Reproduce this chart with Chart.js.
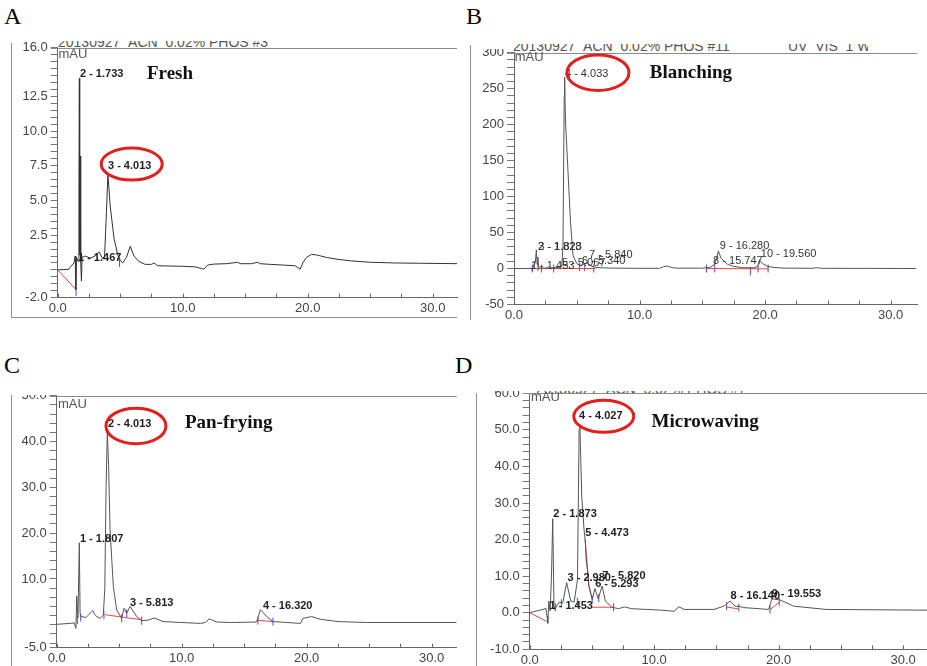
<!DOCTYPE html>
<html>
<head>
<meta charset="utf-8">
<script src="https://cdn.jsdelivr.net/npm/chart.js@4.4.1/dist/chart.umd.min.js"></script>
<style>
  body { margin: 0; background: #fff; width: 927px; height: 666px; position: relative; overflow: hidden; font-family: 'Liberation Sans', Arial, sans-serif; }
  .clip { position: absolute; overflow: hidden; }
  .clip canvas { position: absolute; left: 0; }
  .letter { position: absolute; font: 24px 'Liberation Serif', serif; line-height: 24px; color: #000; }
  .frame { position: absolute; background: #8f8f8f; }
  .hdr { position: absolute; overflow: hidden; white-space: nowrap; color: #555; font-size: 14px; line-height: 14px; }
  .hdr span { position: absolute; left: 0; }
</style>
</head>
<body>

<div class="letter" style="left:4px;top:4px">A</div>
<div class="letter" style="left:466px;top:4px">B</div>
<div class="letter" style="left:4px;top:353px">C</div>
<div class="letter" style="left:455px;top:353px">D</div>

<div class="frame" style="left:11px;top:43px;width:1px;height:275px"></div>
<div class="frame" style="left:11px;top:317px;width:446px;height:1px"></div>
<div class="frame" style="left:470px;top:45px;width:1px;height:275px"></div>
<div class="frame" style="left:11px;top:395px;width:1px;height:271px"></div>
<div class="frame" style="left:476px;top:393px;width:1px;height:273px"></div>

<div class="hdr" style="left:58px;top:41px;width:215px;height:6px"><span style="top:-6px">20130927_ACN_0.02% PHOS #3</span></div>
<div class="hdr" style="left:513px;top:44px;width:225px;height:7px"><span style="top:-5px">20130927_ACN_0.02% PHOS #11</span></div>
<div class="hdr" style="left:788px;top:44px;width:80px;height:7px"><span style="top:-5px">UV_VIS_1 WVL:280</span></div>
<div class="hdr" style="left:536px;top:391px;width:210px;height:3px"><span style="top:-9px">20130927_ACN_0.02% PHOS #7</span></div>

<div class="clip" style="left:0;top:0;width:463px;height:333px"><canvas id="cA" width="463" height="333" style="top:0"></canvas></div>
<div class="clip" style="left:463px;top:48.5px;width:464px;height:284.5px"><canvas id="cB" width="464" height="333" style="top:-48.5px"></canvas></div>
<div class="clip" style="left:0;top:394.5px;width:463px;height:271.5px"><canvas id="cC" width="463" height="333" style="top:-61.5px"></canvas></div>
<div class="clip" style="left:463px;top:391px;width:464px;height:275px"><canvas id="cD" width="470" height="333" style="top:-58px"></canvas></div>

<script>
// retention time (min) and signal (mAU)
const timeA = [0, 0.9, 1.0, 1.3, 1.4, 1.45, 1.5, 1.65, 1.7, 1.733, 1.76, 1.8, 1.84, 1.9, 1.95, 2.2, 2.6, 3.0, 3.3, 3.6,
  3.75, 3.9, 4.013, 4.2, 4.5, 4.8, 5.0, 5.2, 5.5, 5.8, 6.1, 6.5, 7.0, 7.5, 7.7, 8.0, 9.0, 10.0, 11.0, 11.5,
  11.7, 12.0, 12.5, 13.5, 14.4, 14.6, 15.5, 16.0, 16.2, 17.0, 18.0, 19.0, 19.4, 19.6, 19.9, 20.3, 20.7, 21.5, 22.5, 23.5,
  25.0, 27.0, 29.0, 32.0];
const signalA = [0, 0.05, 0.2, 0.5, 1.0, -1.4, 0.9, 0.6, 6, 13.8, 1.2, 8.2, 0.6, -0.8, 0.9, 1.0, 0.85, 1.0, 1.3, 0.8,
  1.0, 4.2, 6.9, 4.6, 2.3, 1.1, 0.7, 0.5, 0.9, 1.7, 1.0, 0.6, 0.4, 0.4, 0.5, 0.3, 0.28, 0.26, 0.22, 0.1,
  0.05, 0.35, 0.42, 0.45, 0.55, 0.45, 0.45, 0.55, 0.45, 0.4, 0.35, 0.3, 0.05, 0.5, 0.9, 1.12, 1.08, 0.9, 0.75, 0.65,
  0.55, 0.5, 0.48, 0.45];

const timeB = [0, 1.2, 1.4, 1.46, 1.55, 1.7, 1.78, 1.84, 1.9, 1.96, 2.1, 2.5, 2.8, 3.0, 3.3, 3.6, 3.8, 3.9, 4.0, 4.033,
  4.1, 4.3, 4.5, 4.7, 5.0, 5.3, 5.5, 5.84, 6.2, 6.6, 7.2, 8.0, 10.0, 11.6, 11.9, 12.2, 12.6, 13.0, 15.0, 15.6,
  16.0, 16.28, 16.5, 17.0, 17.5, 18.2, 19.2, 19.45, 19.56, 19.8, 20.2, 20.7, 21.5, 23.8, 24.1, 24.5, 28.0, 32.0];
const signalB = [0, 0, 0.5, -3, 4, 8, 26, 6, 16, 2, 0.5, 0.5, 2.5, 1, 1.5, 1.5, 3, 30, 240, 266,
  205, 135, 65, 18, 7, 4, 6, 8, 3, 1.5, 0.8, 0.5, 0.3, 0.3, 2.5, 3.5, 1.2, 0.5, 0.5, 1.5,
  6, 24.5, 14, 6, 3, 1.2, 1.0, 4, 12, 7, 3, 1.5, 0.6, 0.3, 1.2, 0.3, 0.2, 0];

const timeC = [0, 1.0, 1.4, 1.54, 1.6, 1.7, 1.81, 1.87, 1.95, 2.35, 2.88, 3.1, 3.47, 3.73, 3.85, 3.95, 4.05, 4.15, 4.27, 4.53,
  4.8, 5.2, 5.39, 5.6, 5.87, 6.4, 6.8, 7.3, 7.8, 8.5, 11.5, 11.9, 12.2, 12.8, 14.0, 16.0, 16.3, 16.8, 17.3, 19.5,
  19.7, 20.4, 21.1, 22.5, 24.8, 32.0];
const signalC = [0.1, 0.3, 0.4, -0.8, 6.3, 1.5, 17.9, 2.5, 1.8, 1.6, 3.1, 2.0, 1.4, 2.1, 8, 30, 42, 35, 20.7, 8.4,
  3.2, 1.4, 3.6, 2.5, 4.0, 1.8, 0.9, 1.0, 1.5, 0.7, 0.3, 0.5, 1.3, 0.6, 0.5, 0.6, 3.3, 1.8, 0.7, 0.3,
  1.4, 1.8, 1.2, 0.7, 0.5, 0.5];

const timeD = [0, 1.06, 1.3, 1.46, 1.54, 1.64, 1.75, 1.85, 1.95, 2.0, 2.38, 2.65, 2.97, 3.3, 3.57, 3.84, 3.97, 4.03, 4.18, 4.37,
  4.45, 4.55, 4.76, 5.03, 5.24, 5.5, 5.82, 6.08, 6.6, 7.14, 7.6, 8.2, 10.6, 11.6, 12.0, 12.4, 14.8, 15.6, 16.1, 16.5,
  16.9, 17.2, 19.2, 19.45, 19.7, 20.1, 20.5, 21.2, 23.8, 32.0];
const signalD = [0, 0.9, 1.2, -2.7, 3.2, 0.5, 10, 25.7, 2, 0.9, 2.9, 2.6, 8.2, 3.2, 2.9, 9.1, 50.1, 51.4, 31.9, 22.6,
  20.2, 14.6, 7.3, 3.6, 6.6, 3.8, 7.3, 3.2, 1.5, 1.1, 1.6, 1.1, 0.7, 0.4, 1.6, 0.9, 0.9, 1.8, 3.2, 1.8,
  1.7, 1.4, 0.9, 3.8, 3.7, 3.5, 2.9, 1.8, 0.9, 0.7];

// integration baselines (null = break) and peak boundary marks
const baseTimeA = [0, 1.5];
const baseSigA = [0, -1.45];
const markTimeA = [1.47, 4.95];
const markSigA = [-1.6, 0.5];

const baseTimeB = [1.3, 6.5, null, 15.3, 20.3];
const baseSigB = [0, 0, null, 0, -0.5];
const markTimeB = [1.46, 1.91, 2.18, 3.16, 5.23, 5.63, 6.35, 15.33, 15.99, 18.83, 19.44, 20.24];
const markSigB = [0, 2, 0, 0, 2, 2, 0, 0, 0, -4, 0, 0];

const baseTimeC = [3.87, 6.8, null, 16.0, 17.3];
const baseSigC = [2.2, 1.1, null, 1.0, 0.7];
const markTimeC = [1.65, 1.92, 3.78, 5.2, 5.6, 6.8, 16.1, 17.3];
const markSigC = [1.0, 1.6, 2.1, 1.4, 2.5, 0.9, 0.9, 0.7];

const baseTimeD = [0, 1.45, null, 4.45, 4.76, 5.03, null, 5.03, 6.74, null, 15.8, 16.8, null, 19.3, 20.05];
const baseSigD = [0, -2.5, null, 20.2, 7.3, 3.6, null, 1.5, 1.5, null, 1.6, 1.0, null, 0.8, 2.9];
const markTimeD = [1.46, 2.06, 2.54, 3.83, 4.55, 5.02, 5.55, 6.74, 15.82, 16.8, 19.31, 20.05];
const markSigD = [-2, 1.5, 2.6, 3, 15, 3.6, 4, 1.5, 1.8, 1.4, 0.9, 3.0];

// axis tick labels
const xLabels = [0, 10, 20, 30];
const yLabelsA = [16.0, 12.5, 10.0, 7.5, 5.0, 2.5, -2.0];
const yLabelsB = [300, 250, 200, 150, 100, 50, 0, -50];
const yLabelsC = [50.0, 40.0, 30.0, 20.0, 10.0, -5.0];
const yLabelsD = [60.0, 50.0, 40.0, 30.0, 20.0, 10.0, 0.0, -10.0];

// peak annotations: text, retention time, height
const peaksA = [['2 - 1.733', 1.78, 14.1], ['3 - 4.013', 4.02, 7.5], ['1 - 1.467', 1.62, 0.88]];
const peaksB = [['4 - 4.033', 4.06, 271], ['2 - 1.828', 1.91, 30.6], ['3 - 1.823', 1.94, 30.6],
  ['1 - 1.453', 1.35, 3.75], ['5 - 5.067', 3.82, 7.2], ['6 - 5.340', 5.42, 11.1], ['7 - 5.840', 5.98, 19],
  ['8 - 15.747', 15.86, 11.1], ['9 - 16.280', 16.39, 31.9], ['10 - 19.560', 19.66, 20.4]];
const peaksC = [['2 - 4.013', 4.1, 43.8], ['1 - 1.807', 1.86, 18.8], ['3 - 5.813', 5.86, 4.87], ['4 - 16.320', 16.5, 4.0]];
const peaksD = [['4 - 4.027', 3.97, 53.7], ['2 - 1.873', 1.9, 26.9], ['5 - 4.473', 4.47, 21.7], ['7 - 5.820', 5.82, 10.0],
  ['3 - 2.980', 3.04, 9.4], ['6 - 5.293', 5.26, 7.9], ['1 - 1.453', 1.59, 1.8], ['8 - 16.140', 16.13, 4.5],
  ['9 - 19.553', 19.44, 5.0]];

function pts(xs, ys) {
  return xs.map((t, i) => ({ x: t, y: ys[i] }));
}

function tickList(min, max, step, majors) {
  const out = [];
  for (let v = Math.ceil(min / step - 1e-9) * step; v <= max + 1e-9; v += step) out.push(+v.toFixed(3));
  majors.forEach(m => { if (!out.some(o => Math.abs(o - m) < 1e-6)) out.push(m); });
  return out.sort((a, b) => a - b);
}

const notesPlugin = {
  id: 'notes',
  afterDraw(chart, args, o) {
    const { ctx, chartArea: a, scales: { x, y } } = chart;
    ctx.save();
    // top frame of the plot
    ctx.strokeStyle = '#8a8a8a';
    ctx.lineWidth = 1;
    ctx.beginPath();
    ctx.moveTo(a.left - 7, Math.round(a.top) + 0.5);
    ctx.lineTo(a.right, Math.round(a.top) + 0.5);
    ctx.stroke();
    // x ticks pointing up into the plot
    ctx.strokeStyle = '#666';
    ctx.beginPath();
    x.ticks.forEach(t => {
      const px = Math.round(x.getPixelForValue(t.value)) + 0.5;
      ctx.moveTo(px, a.bottom);
      ctx.lineTo(px, a.bottom - 4);
    });
    ctx.stroke();

    ctx.textBaseline = 'middle';
    ctx.textAlign = 'left';
    ctx.fillStyle = '#555';
    ctx.font = '13px "Liberation Sans", Arial, sans-serif';
    ctx.fillText('mAU', x.getPixelForValue(o.unit[0]), y.getPixelForValue(o.unit[1]));

    ctx.fillStyle = o.labelColor;
    ctx.font = o.labelFont;
    o.peaks.forEach(p => ctx.fillText(p[0], x.getPixelForValue(p[1]), y.getPixelForValue(p[2])));

    ctx.fillStyle = '#111';
    ctx.font = 'bold 19px "Liberation Serif", "Times New Roman", serif';
    ctx.fillText(o.title[0], x.getPixelForValue(o.title[1]), y.getPixelForValue(o.title[2]));

    ctx.strokeStyle = '#e0201c';
    ctx.lineWidth = 3;
    ctx.beginPath();
    ctx.ellipse(x.getPixelForValue(o.ring[0]), y.getPixelForValue(o.ring[1]), o.ring[2], o.ring[3], 0, 0, Math.PI * 2);
    ctx.stroke();
    ctx.restore();
  }
};

function makePanel(id, p) {
  const yTicks = tickList(p.ymin, p.ymax, p.ystep, p.yLabels);
  const xTicks = tickList(0, 30, 2.5, xLabels);
  return new Chart(document.getElementById(id), {
    type: 'scatter',
    data: {
      datasets: [
        { data: pts(p.time, p.signal), showLine: true, borderColor: p.lineColor, borderWidth: 1, pointRadius: 0, tension: 0 },
        { data: pts(p.baseTime, p.baseSig), showLine: true, borderColor: '#e8453f', borderWidth: 1, pointRadius: 0, spanGaps: false },
        { data: pts(p.markTime, p.markSig), showLine: false, pointStyle: 'line', rotation: 90, pointRadius: 4,
          borderColor: '#4b4bd2', borderWidth: 1 }
      ]
    },
    options: {
      responsive: false,
      animation: false,
      events: [],
      layout: { padding: { top: p.pad[0], right: p.pad[1], bottom: 0, left: 0 } },
      plugins: {
        legend: { display: false },
        tooltip: { enabled: false },
        notes: p.notes
      },
      scales: {
        x: {
          type: 'linear', min: 0, max: p.xmax,
          afterBuildTicks: ax => { ax.ticks = xTicks.map(v => ({ value: v })); },
          afterFit: ax => { ax.height = p.xh; ax.paddingLeft = 0; ax.paddingRight = 0; },
          ticks: {
            autoSkip: false, maxRotation: 0, padding: 3, color: '#444',
            font: { family: 'Liberation Sans', size: 13 },
            callback: v => xLabels.includes(v) ? v.toFixed(1) : ''
          },
          grid: { drawOnChartArea: false, drawTicks: false },
          border: { color: '#666' }
        },
        y: {
          min: p.ymin, max: p.ymax,
          afterBuildTicks: ax => { ax.ticks = yTicks.map(v => ({ value: v })); },
          afterFit: ax => { ax.width = p.yw; ax.paddingTop = 0; ax.paddingBottom = 0; },
          ticks: {
            autoSkip: false, padding: 3, color: '#444',
            font: { family: 'Liberation Sans', size: 13 },
            callback: v => p.yLabels.some(m => Math.abs(m - v) < 1e-6) ? v.toFixed(p.dec) : ''
          },
          grid: { drawOnChartArea: false, tickLength: 7, color: '#777' },
          border: { color: '#666' }
        }
      }
    },
    plugins: [notesPlugin]
  });
}

const boldLabel = 'bold 11px "Liberation Sans", Arial, sans-serif';

makePanel('cA', {
  time: timeA, signal: signalA, baseTime: baseTimeA, baseSig: baseSigA, markTime: markTimeA, markSig: markSigA,
  ymin: -2, ymax: 16, ystep: 0.5, yLabels: yLabelsA, dec: 1, xmax: 31.94,
  pad: [47.7, 6], yw: 57.7, xh: 35.3, lineColor: '#333',
  notes: { peaks: peaksA, labelFont: boldLabel, labelColor: '#222', title: ['Fresh', 7.14, 14.07],
    ring: [5.92, 7.62, 30.5, 16], unit: [0.06, 15.5] }
});

makePanel('cB', {
  time: timeB, signal: signalB, baseTime: baseTimeB, baseSig: baseSigB, markTime: markTimeB, markSig: markSigB,
  ymin: -50, ymax: 300, ystep: 10, yLabels: yLabelsB, dec: 0, xmax: 32.1,
  pad: [52.7, 10], yw: 51, xh: 28.5, lineColor: '#555',
  notes: { peaks: peaksB, labelFont: '11px "Liberation Sans", Arial, sans-serif', labelColor: '#333',
    title: ['Blanching', 10.81, 271.4], ring: [6.69, 272.2, 31, 17.8], unit: [0.06, 293.6] }
});

makePanel('cC', {
  time: timeC, signal: signalC, baseTime: baseTimeC, baseSig: baseSigC, markTime: markTimeC, markSig: markSigC,
  ymin: -5, ymax: 50, ystep: 2, yLabels: yLabelsC, dec: 1, xmax: 32,
  pad: [62.7, 6.3], yw: 56.7, xh: 18.3, lineColor: '#555',
  notes: { peaks: peaksC, labelFont: boldLabel, labelColor: '#222', title: ['Pan-frying', 10.26, 44.1],
    ring: [6.34, 43.4, 30, 17.8], unit: [0.1, 48] }
});

makePanel('cD', {
  time: timeD, signal: signalD, baseTime: baseTimeD, baseSig: baseSigD, markTime: markTimeD, markSig: markSigD,
  ymin: -10, ymax: 60, ystep: 2, yLabels: yLabelsD, dec: 1, xmax: 32,
  pad: [60.3, 0], yw: 66.7, xh: 16.7, lineColor: '#555',
  notes: { peaks: peaksD, labelFont: boldLabel, labelColor: '#222', title: ['Microwaving', 9.79, 52.1],
    ring: [5.95, 53.7, 30, 16], unit: [0.1, 58.8] }
});
</script>
</body>
</html>
